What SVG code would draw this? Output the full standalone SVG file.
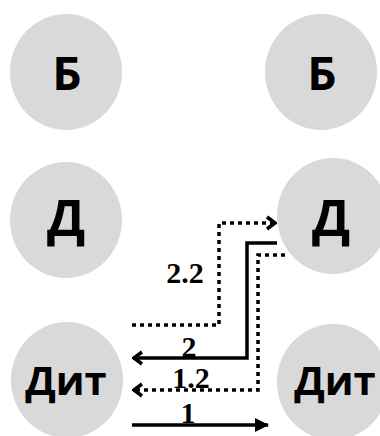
<svg xmlns="http://www.w3.org/2000/svg" width="380" height="436" viewBox="0 0 380 436">
  <defs>
    <style>
      .node { fill: #d9d9d9; }
      .lbl { font-family: "Open Sans", "Liberation Sans", sans-serif; font-weight: 700; fill: #000; text-anchor: middle; }
      .num { font-family: "Liberation Serif", serif; font-weight: 700; font-size: 30px; fill: #000; text-anchor: middle; }
      .solid { fill: none; stroke: #000; stroke-width: 3.5; }
      .dot { fill: none; stroke: #000; stroke-width: 3.5; stroke-dasharray: 4 4; }
    </style>
    <marker id="chev" viewBox="0 0 12 16" refX="11" refY="8" markerWidth="12" markerHeight="16" markerUnits="userSpaceOnUse" orient="auto">
      <polyline points="2,2 10,8 2,14" fill="none" stroke="#000" stroke-width="3.5"/>
    </marker>
    <marker id="tri" viewBox="0 0 14 16" refX="13" refY="8" markerWidth="14" markerHeight="16" markerUnits="userSpaceOnUse" orient="auto">
      <path d="M0,1 L14,8 L0,15 Z" fill="#000"/>
    </marker>
  </defs>
  <rect width="380" height="436" fill="#fff"/>
  <g id="b-left"><ellipse class="node" cx="66" cy="72" rx="56" ry="58"/><text class="lbl" x="67" y="90" font-size="46">Б</text></g>
  <g id="b-right"><ellipse class="node" cx="321" cy="72" rx="56" ry="58"/><text class="lbl" x="322" y="90" font-size="46">Б</text></g>
  <g id="d-left"><ellipse class="node" cx="66" cy="220" rx="56" ry="58"/><text class="lbl" x="66" y="236" font-size="50">Д</text></g>
  <g id="d-right"><ellipse class="node" cx="333" cy="216" rx="56" ry="58"/><text class="lbl" x="331" y="236" font-size="50">Д</text></g>
  <g id="dit-left"><ellipse class="node" cx="67" cy="380" rx="56" ry="58"/><text class="lbl" x="66" y="395" font-size="40">Дит</text></g>
  <g id="dit-right"><ellipse class="node" cx="333" cy="382" rx="56" ry="58"/><text class="lbl" x="335" y="395" font-size="40">Дит</text></g>
  <g id="connectors">
    <polyline class="dot" points="132,325 219,325 219,223 276,223" marker-end="url(#chev)"/>
    <polyline class="solid" points="277,243 247,243 247,358 133,358" marker-end="url(#chev)"/>
    <polyline class="dot" points="285,255 258,255 258,390 133,390" marker-end="url(#chev)"/>
    <line class="solid" x1="132" y1="425" x2="268" y2="425" marker-end="url(#tri)"/>
    <text class="num" x="185" y="283">2.2</text>
    <text class="num" x="189" y="357">2</text>
    <text class="num" x="191" y="388">1.2</text>
    <text class="num" x="188" y="423">1</text>
  </g>
</svg>
